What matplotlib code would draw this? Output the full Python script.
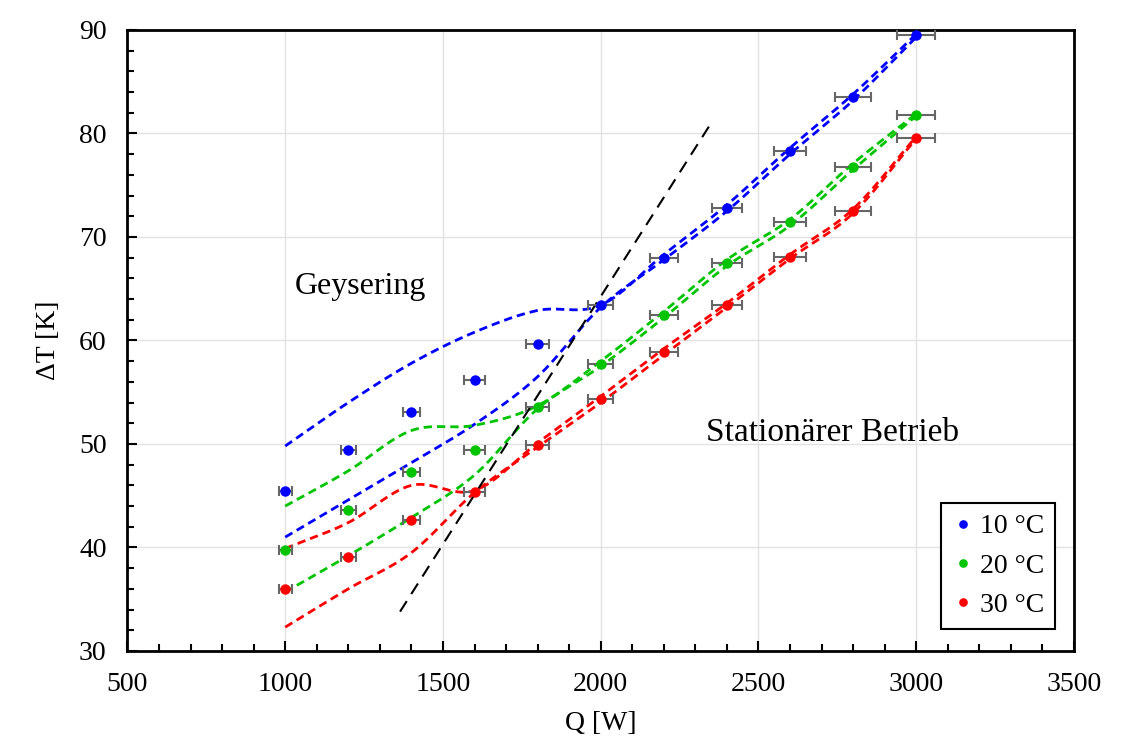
import matplotlib
matplotlib.use('Agg')
import matplotlib.pyplot as plt
from matplotlib.ticker import MultipleLocator
import numpy as np

plt.rcParams['font.family'] = ['Liberation Serif', 'DejaVu Serif']

# Measured points
Q = [1000, 1200, 1400, 1600, 1800, 2000, 2200, 2400, 2600, 2800, 3000]
dT_10 = [45.5, 49.4, 53.1, 56.2, 59.7, 63.4, 68.0, 72.8, 78.3, 83.5, 89.5]
dT_20 = [39.8, 43.6, 47.3, 49.4, 53.6, 57.7, 62.5, 67.5, 71.4, 76.8, 81.8]
dT_30 = [36.0, 39.1, 42.7, 45.4, 49.9, 54.3, 58.9, 63.4, 68.1, 72.5, 79.6]

# Upper / lower envelope curves (dashed)
up_10 = [49.8, 54.0, 57.8, 60.8, 62.9, 63.4, 68.3, 73.1, 78.6, 83.8, 89.6]
lo_10 = [41.0, 44.6, 48.2, 51.9, 56.5, 63.2, 67.8, 72.5, 78.0, 83.2, 89.3]
up_20 = [44.0, 47.4, 51.3, 51.8, 53.7, 58.0, 62.8, 67.8, 71.7, 77.1, 81.9]
lo_20 = [35.7, 39.2, 42.9, 47.0, 53.4, 57.5, 62.2, 67.2, 71.1, 76.5, 81.7]
up_30 = [39.9, 42.4, 46.0, 45.5, 50.1, 54.6, 59.2, 63.6, 68.3, 72.7, 79.7]
lo_30 = [32.3, 36.0, 39.5, 45.3, 49.7, 54.0, 58.6, 63.2, 67.9, 72.3, 79.5]

# Boundary line between geysering and steady operation
border_Q = [1364, 2350]
border_dT = [33.8, 81.0]

x_err_rel = 0.02


def smooth(x, y, n=30):
    # cubic Hermite with Catmull-Rom tangents, similar to Excel's smoothed lines
    x = np.asarray(x, float)
    y = np.asarray(y, float)
    m = np.zeros_like(y)
    m[1:-1] = (y[2:] - y[:-2]) / (x[2:] - x[:-2])
    m[0] = (y[1] - y[0]) / (x[1] - x[0])
    m[-1] = (y[-1] - y[-2]) / (x[-1] - x[-2])
    xs, ys = [], []
    for i in range(len(x) - 1):
        h = x[i + 1] - x[i]
        t = np.linspace(0, 1, n, endpoint=False)
        h00 = 2 * t**3 - 3 * t**2 + 1
        h10 = t**3 - 2 * t**2 + t
        h01 = -2 * t**3 + 3 * t**2
        h11 = t**3 - t**2
        xs.append(x[i] + t * h)
        ys.append(h00 * y[i] + h10 * h * m[i] + h01 * y[i + 1] + h11 * h * m[i + 1])
    xs.append([x[-1]])
    ys.append([y[-1]])
    return np.concatenate(xs), np.concatenate(ys)


fig = plt.figure(figsize=(11.32, 7.51), dpi=100)
ax = fig.add_axes([0.1126, 0.1332, 0.8361, 0.8269])

series = [
    (dT_10, up_10, lo_10, '#0000ff', '10 °C'),
    (dT_20, up_20, lo_20, '#00c400', '20 °C'),
    (dT_30, up_30, lo_30, '#ff0000', '30 °C'),
]

for vals, up, lo, col, lab in series:
    for env in (up, lo):
        xs, ys = smooth(Q, env)
        ax.plot(xs, ys, color=col, lw=2, dashes=(3, 1.8), zorder=3)
    ax.errorbar(Q, vals, xerr=[q * x_err_rel for q in Q], fmt='none',
                ecolor='#666666', elinewidth=1.5, capsize=3.5, capthick=1.5, zorder=4)
    ax.plot(Q, vals, 'o', color=col, markersize=6.5, label=lab, zorder=5)

ax.plot(border_Q, border_dT, color='black', lw=1.5, dashes=(6, 4), zorder=3)

ax.text(1237, 65.2, 'Geysering', fontsize=23, ha='center', va='center')
ax.text(2736, 51.1, 'Stationärer Betrieb', fontsize=24, ha='center', va='center')

ax.set_xlim(500, 3500)
ax.set_ylim(30, 90)
ax.xaxis.set_major_locator(MultipleLocator(500))
ax.xaxis.set_minor_locator(MultipleLocator(100))
ax.yaxis.set_major_locator(MultipleLocator(10))
ax.yaxis.set_minor_locator(MultipleLocator(2))
ax.tick_params(which='both', direction='in', top=False, right=False, labelsize=20, width=1.5)
ax.tick_params(which='major', length=7, pad=15)
ax.tick_params(which='minor', length=5)
ax.grid(True, which='major', color='#e2e2e2', lw=1, zorder=0)
for s in ax.spines.values():
    s.set_linewidth(2)

ax.set_xlabel('Q [W]', fontsize=20, labelpad=10)
ax.set_ylabel('ΔT [K]', fontsize=20, labelpad=13)

leg = ax.legend(loc='lower right', bbox_to_anchor=(0.980, 0.035), borderaxespad=0,
                fontsize=20, handletextpad=0.2, handlelength=0.8, markerscale=0.8,
                fancybox=False, edgecolor='black', framealpha=1, labelspacing=0.5,
                borderpad=0.4)
leg.get_frame().set_linewidth(1.5)

fig.savefig('out.png', dpi=100)
